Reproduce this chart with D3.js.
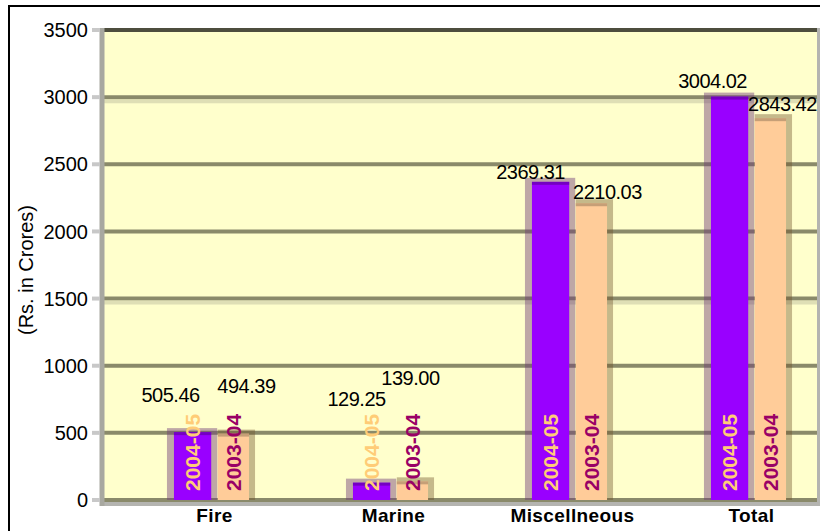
<!DOCTYPE html>
<html><head><meta charset="utf-8">
<script src="https://cdn.jsdelivr.net/npm/d3@7"></script>
<style>body{margin:0;background:#fff}svg{display:block}text{font-family:"Liberation Sans",Arial,sans-serif}</style>
</head><body>
<svg id="c" width="820" height="531"></svg>
<script>
const categories = ["Fire", "Marine", "Miscellneous", "Total"];
const series = ["2004-05", "2003-04"];
const values2004 = [505.46, 129.25, 2369.31, 3004.02];
const values2003 = [494.39, 139.00, 2210.03, 2843.42];
const yTicks = [0, 500, 1000, 1500, 2000, 2500, 3000, 3500];
const yTitle = "(Rs. in Crores)";
// label nudges (layout only)
const labelNudge = {
  "2004-05": [[-22,-37],[-15,-84],[-20,-10],[-17,-16]],
  "2003-04": [[10,-48],[-5,-104],[13,-11],[9,-14]]
};

const svg = d3.select("#c");
const plotL = 102, plotR = 818, plotT = 30, plotB = 500;

const y = d3.scaleLinear().domain([0, 3500]).range([plotB, plotT]);
const x = d3.scaleBand().domain(categories).range([125, 841]).paddingInner(0.547).paddingOuter(0.2735);
const xs = d3.scaleBand().domain(series).range([0, x.bandwidth()]).paddingInner(0.15);
const color = d3.scaleOrdinal().domain(series).range(["#9900ff", "#ffcc99"]);
const topColor = d3.scaleOrdinal().domain(series).range(["#5c0099", "#a08060"]);
const textColor = d3.scaleOrdinal().domain(series).range(["#ffcc77", "#990066"]);

// outer frame
svg.append("rect").attr("x", 9).attr("y", 6).attr("width", 830).attr("height", 540)
  .attr("fill", "#fff").attr("stroke", "#000").attr("stroke-width", 2);

// plot background
svg.append("rect").attr("x", plotL).attr("y", plotT).attr("width", plotR - plotL).attr("height", plotB - plotT)
  .attr("fill", "#ffffcc");

// floor
svg.append("rect").attr("x", 100).attr("y", plotB).attr("width", plotR - 100).attr("height", 6).attr("fill", "#b4b4b0");

// gridlines
svg.append("g").selectAll("line").data(yTicks).join("line")
  .attr("x1", 100).attr("x2", plotR).attr("y1", d => y(d)).attr("y2", d => y(d))
  .attr("stroke", d => d === 3500 ? "#4e4e3e" : "#8a8a6a").attr("stroke-width", 4);
svg.append("g").selectAll("line").data([3000, 1500]).join("line")
  .attr("x1", 100).attr("x2", plotR).attr("y1", d => y(d) + 4).attr("y2", d => y(d) + 4)
  .attr("stroke", "#d8d8b0").attr("stroke-width", 4).attr("opacity", 0.8);

// left wall & right edge
svg.append("line").attr("x1", 102).attr("x2", 102).attr("y1", plotT - 2).attr("y2", plotB + 6)
  .attr("stroke", "#a8a8a0").attr("stroke-width", 5);
svg.append("line").attr("x1", 818.5).attr("x2", 818.5).attr("y1", plotT - 2).attr("y2", plotB + 6)
  .attr("stroke", "#b4b4b0").attr("stroke-width", 3);

// y axis ticks
const yAxis = svg.append("g");
yAxis.selectAll("line").data(yTicks).join("line")
  .attr("x1", 92).attr("x2", 100).attr("y1", d => y(d)).attr("y2", d => y(d))
  .attr("stroke", "#c8c8c8").attr("stroke-width", 4);
yAxis.selectAll("text").data(yTicks).join("text")
  .attr("x", 88).attr("y", d => y(d)).attr("dy", "0.36em").attr("text-anchor", "end")
  .attr("font-size", 20).attr("fill", "#000").text(d => d);

// y title
svg.append("text").attr("transform", "translate(33,270) rotate(-90)")
  .attr("text-anchor", "middle").attr("font-size", 20).attr("fill", "#000").text(yTitle);

const rows = [];
categories.forEach((c, i) => {
  rows.push({cat: c, s: "2004-05", v: values2004[i], i});
  rows.push({cat: c, s: "2003-04", v: values2003[i], i});
});
const bw = xs.bandwidth();
const barW = d => d.s === "2004-05" ? bw : bw - 6;

const bars = svg.append("g");
// shadows
bars.selectAll("rect.sh").data(rows).join("rect").attr("class", "sh")
  .attr("x", d => x(d.cat) + xs(d.s) + (d.s === "2004-05" ? -7 : 0))
  .attr("y", d => y(d.v) - 4)
  .attr("width", d => d.s === "2004-05" ? bw + 13 : bw)
  .attr("height", d => plotB - y(d.v) + 4)
  .attr("fill", d => d.s === "2004-05" ? "rgba(110,60,120,0.45)" : "rgba(110,80,40,0.4)");
// bars
bars.selectAll("rect.b").data(rows).join("rect").attr("class", "b")
  .attr("x", d => x(d.cat) + xs(d.s))
  .attr("y", d => y(d.v))
  .attr("width", barW)
  .attr("height", d => plotB - y(d.v))
  .attr("fill", d => color(d.s));
bars.selectAll("rect.t").data(rows).join("rect").attr("class", "t")
  .attr("x", d => x(d.cat) + xs(d.s))
  .attr("y", d => y(d.v))
  .attr("width", barW)
  .attr("height", 3)
  .attr("fill", d => topColor(d.s)).attr("opacity", 0.6);

// rotated series labels
bars.selectAll("text.s").data(rows).join("text").attr("class", "s")
  .attr("transform", d => `translate(${x(d.cat) + xs(d.s) + barW(d) / 2},${plotB - 9}) rotate(-90)`)
  .attr("dy", "0.36em").attr("text-anchor", "start")
  .attr("font-size", 21).attr("font-weight", "bold").attr("fill", d => textColor(d.s))
  .text(d => d.s);

// value labels
bars.selectAll("text.v").data(rows).join("text").attr("class", "v")
  .attr("x", d => x(d.cat) + xs(d.s) + bw / 2 + labelNudge[d.s][d.i][0])
  .attr("y", d => y(d.v) + labelNudge[d.s][d.i][1])
  .attr("dy", "0.36em").attr("text-anchor", "middle")
  .attr("font-size", 20).attr("fill", "#000").attr("letter-spacing", -0.5)
  .text(d => d.v.toFixed(2));

// category labels
svg.append("g").selectAll("text").data(categories).join("text")
  .attr("x", d => x(d) + x.bandwidth() / 2).attr("y", 522)
  .attr("text-anchor", "middle").attr("font-size", 19).attr("font-weight", "bold").attr("fill", "#000")
  .attr("letter-spacing", 0.4)
  .text(d => d);
</script>
</body></html>
